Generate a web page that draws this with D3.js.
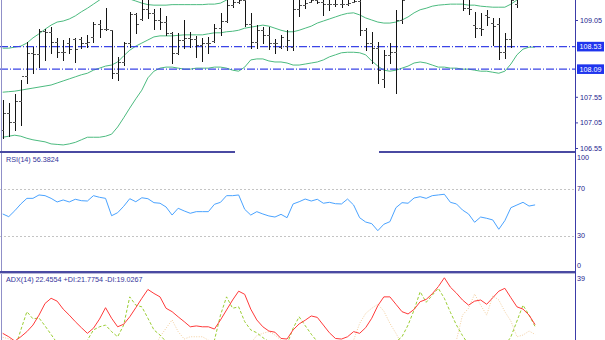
<!DOCTYPE html>
<html><head><meta charset="utf-8">
<script src="https://cdn.jsdelivr.net/npm/d3@7"></script>
<style>html,body{margin:0;padding:0;background:#fff;}svg{display:block;}</style>
</head><body><svg id="c" width="605" height="340"></svg>
<script>
// ---------- data ----------
const opens = [106.90,107.23,107.06,107.47,107.96,108.41,108.38,108.83,108.82,108.62,
108.42,108.60,108.68,108.68,108.60,108.72,108.97,108.87,108.85,108.01,
108.23,108.60,109.17,109.07,109.26,109.19,109.05,109.01,108.80,108.41,
108.66,108.70,108.68,108.56,108.60,108.64,108.89,109.03,109.34,109.40,
109.44,108.97,108.62,108.85,108.76,108.60,108.52,108.54,108.52,109.26,
109.34,109.41,109.44,109.40,109.36,109.36,109.36,109.36,109.41,109.42,
108.85,108.60,108.50,107.90,108.37,108.42,109.05,109.50,109.70,109.85,
109.80,109.90,109.95,109.75,109.65,109.70,109.55,109.28,108.95,108.89,
109.15,108.99,108.97,108.42,108.68,109.36,109.55,109.80,109.70];
const highs = [107.49,107.43,107.60,107.88,108.62,108.52,108.87,108.87,108.91,108.70,
108.66,108.70,108.70,108.72,108.76,109.01,109.05,109.28,108.85,108.33,
108.62,109.21,109.19,109.54,109.50,109.26,109.28,109.13,108.82,108.80,
109.05,108.82,108.74,108.70,108.72,108.97,109.19,109.48,109.60,109.64,
109.54,109.19,108.95,108.91,108.91,108.68,108.76,108.85,109.64,109.54,
109.60,109.64,109.64,109.68,109.64,109.60,109.54,109.60,109.64,109.60,
108.89,108.82,108.62,108.46,108.60,109.25,109.64,109.80,109.95,110.05,
110.00,110.10,110.05,109.90,109.85,109.80,109.70,109.55,109.21,109.19,
109.25,109.09,109.09,108.80,109.64,109.75,109.90,110.00,109.85];
const lows = [106.74,106.78,106.90,107.00,107.82,108.01,108.13,108.27,108.41,108.33,
108.27,108.41,108.23,108.50,108.52,108.62,108.72,108.85,107.92,107.88,
108.17,108.52,108.80,109.05,109.09,108.87,108.87,108.76,108.21,108.39,
108.50,108.52,108.33,108.25,108.41,108.62,108.76,109.01,109.30,109.38,
108.93,108.50,108.50,108.60,108.48,108.41,108.50,108.46,108.46,109.13,
109.28,109.40,109.38,109.15,109.25,109.32,109.30,109.34,109.40,108.76,
108.46,108.21,107.82,107.74,108.21,107.62,108.99,109.48,109.60,109.70,
109.65,109.75,109.70,109.55,109.50,109.48,109.25,109.17,108.72,108.76,
108.95,108.56,108.29,108.31,108.52,109.30,109.48,109.60,109.50];
const closes = [107.23,107.06,107.47,107.96,108.41,108.38,108.83,108.82,108.62,108.42,
108.42,108.48,108.48,108.60,108.62,108.97,108.87,108.87,108.01,108.23,
108.60,109.17,108.97,109.26,109.19,109.05,109.01,108.80,108.41,108.66,
108.70,108.68,108.56,108.60,108.60,108.89,109.03,109.34,109.40,109.44,
108.97,108.62,108.85,108.76,108.60,108.60,108.72,108.66,109.26,109.34,
109.38,109.44,109.40,109.36,109.36,109.36,109.36,109.38,109.42,108.85,
108.60,108.50,108.07,108.37,108.42,109.05,109.45,109.70,109.85,109.80,
109.90,109.95,109.75,109.65,109.70,109.55,109.28,109.26,108.89,108.87,
109.11,108.93,108.42,108.68,109.44,109.55,109.80,109.70,109.60];

const bbUpper = [108.50,108.50,108.52,108.54,108.60,108.70,108.78,108.87,108.95,109.01,
109.03,109.07,109.13,109.21,109.28,109.36,109.44,109.52,109.56,109.56,
109.52,109.46,109.42,109.38,109.35,109.34,109.34,109.34,109.35,109.35,
109.35,109.35,109.35,109.35,109.36,109.36,109.38,109.44,109.52,109.65,
109.65,109.56,109.58,109.62,109.62,109.60,109.56,109.54,109.54,109.54,
109.60,109.65,109.75,109.79,109.81,109.85,109.89,109.93,109.95,109.89,
109.81,109.85,109.87,109.91,109.93,109.95,109.99,110.07,110.16,110.26,
110.36,110.48,110.55,110.57,110.61,110.61,110.63,110.59,110.61,110.59,
110.57,110.57,110.59,110.55,110.53,110.51,110.55,110.67,110.75];
const bbMiddle = [107.64,107.65,107.66,107.68,107.70,107.72,107.74,107.76,107.78,107.82,
107.86,107.90,107.94,107.98,108.01,108.07,108.11,108.15,108.17,108.23,
108.35,108.46,108.54,108.60,108.66,108.72,108.74,108.74,108.74,108.75,
108.76,108.76,108.76,108.76,108.78,108.80,108.80,108.82,108.83,108.85,
108.89,108.91,108.93,108.95,108.93,108.89,108.85,108.82,108.82,108.85,
108.89,108.93,108.99,109.03,109.07,109.11,109.15,109.18,109.19,109.15,
109.09,109.05,109.01,108.99,108.99,109.01,109.05,109.11,109.19,109.25,
109.28,109.32,109.34,109.35,109.36,109.36,109.36,109.34,109.34,109.32,
109.31,109.30,109.30,109.30,109.36,109.44,109.52,109.60,109.64];
const bbLower = [106.76,106.78,106.80,106.78,106.74,106.71,106.69,106.67,106.63,106.62,
106.61,106.63,106.66,106.71,106.76,106.76,106.76,106.78,106.82,106.96,
107.14,107.33,107.51,107.68,107.92,108.05,108.11,108.13,108.13,108.11,
108.09,108.09,108.11,108.11,108.11,108.13,108.13,108.11,108.07,108.05,
108.13,108.27,108.29,108.29,108.25,108.23,108.23,108.21,108.17,108.17,
108.19,108.21,108.23,108.27,108.33,108.37,108.41,108.42,108.42,108.41,
108.37,108.25,108.15,108.07,108.05,108.07,108.11,108.15,108.21,108.23,
108.21,108.17,108.13,108.13,108.11,108.11,108.09,108.09,108.07,108.05,
108.05,108.03,108.01,108.05,108.19,108.37,108.48,108.52,108.52];

const rsi = [48.6,46.3,51.4,57.2,62.0,62.0,64.9,64.3,62.0,58.9,
60.6,58.9,61.2,60.0,59.7,64.3,62.9,62.0,47.1,49.7,
55.2,61.7,59.1,62.5,61.7,58.3,57.8,54.6,47.7,53.5,
51.2,49.2,50.6,50.6,50.6,56.9,58.6,64.3,64.3,64.9,
52.6,47.7,50.6,48.6,46.9,46.0,48.3,45.4,57.2,59.1,
61.4,59.7,61.2,57.8,58.6,57.4,57.2,61.4,56.3,45.4,
41.7,40.3,34.3,39.8,42.0,54.0,58.3,57.8,62.3,63.4,
62.0,64.3,64.9,65.5,58.6,57.2,52.0,48.6,41.5,46.0,
44.9,43.5,35.5,42.9,54.0,56.3,58.6,55.4,56.38];

const adx = [19.4,18.2,16.7,18.2,20.0,22.3,25.8,29.9,31.7,30.7,
27.9,25.8,23.5,21.4,19.4,21.2,24.4,28.4,24.7,21.7,
22.6,25.2,28.4,31.7,34.8,33.4,32.2,28.2,27.0,25.2,
23.5,21.7,22.0,21.7,21.7,20.9,24.1,27.6,31.1,34.2,
33.1,27.9,24.1,21.7,20.2,19.8,17.6,17.4,20.6,22.7,
24.0,25.5,25.0,22.3,19.6,17.6,17.4,18.2,20.0,19.4,
21.4,24.7,29.1,32.2,32.2,29.6,27.0,26.2,27.8,30.5,
31.3,33.3,35.8,38.9,35.6,33.5,31.1,29.3,30.7,31.1,
29.6,31.9,34.2,35.2,31.9,28.7,27.9,25.8,22.46];
const plusDI = [15,13,14,20.6,27.0,24.5,24.8,22.0,19.0,16.0,
13,12,12,14,17,20.6,21.7,22.3,20.0,18.2,
22.3,32.2,29.3,28.7,24.7,20.6,18.8,16.5,14,13,
12,12,12,11,11,17,25.8,32.2,28.2,28.7,
23.5,20.6,19.6,17.9,16.5,15,14,15.5,21.2,25.2,
22.1,19.1,16.5,14,13,12,12,13,14,12,
11,12,13,14,15,16.5,18.2,22.3,27.6,34.0,
30.3,32.8,35.2,31.7,26.8,22.3,18.6,15.5,13,12,
12,13,12,15,18.2,23.7,29.3,25.8,21.78];
const minusDI = [18,17.5,16.5,15,13,12,12,12,13,14,
15,15,16,16,15,14,13,12,14,15,
14,12,11,11,12,14,18.2,21.2,24.1,20.0,
17.4,18.2,18.2,18.2,17,15,13,11,11,11,
13,16,18.6,19.4,20.0,18.8,17,15,13,12,
12,13,14,15,15.5,15.5,16,16,17,22.9,
26.4,28.2,29.6,27.2,22.9,19.4,15.5,14,12,11,
11,12,12,13,14,17,25.8,28.2,33.2,29.3,
25.8,32.6,31.1,27.0,23.7,18.2,18.8,20.2,19.03];

const priceTicks = [109.05, 107.55, 107.05, 106.55];
const priceLevels = [108.53, 108.09];
const rsiTicks = [100, 70, 30, 0];
const rsiLevels = [70, 30];
const adxTicks = [39];
const rsiTitle = "RSI(14) 56.3824";
const adxTitle = "ADX(14) 22.4554 +DI:21.7754 -DI:19.0267";

// ---------- chart ----------
const FONT = "'Liberation Sans', Arial, sans-serif";
const FS = "7.2px";
const AXC = "#3c3ca8", TXC = "#22228e";
const N = closes.length, AX = 575;
const svg = d3.select("#c");
const x = d3.scaleLinear().domain([0, N - 1]).range([2.7, 535.1]);
const yP = d3.scaleLinear().domain([106.55, 109.05]).range([148, 20]);
const yR = d3.scaleLinear().domain([0, 100]).range([270.7, 154]);
const yA = d3.scaleLinear().domain([0, 39]).range([388.6, 277.5]);

const defs = svg.append("defs");
defs.append("clipPath").attr("id", "cp").append("rect").attr("x", 0).attr("y", 0).attr("width", AX).attr("height", 151);
defs.append("clipPath").attr("id", "cr").append("rect").attr("x", 0).attr("y", 153).attr("width", AX).attr("height", 118);
defs.append("clipPath").attr("id", "ca").append("rect").attr("x", 0).attr("y", 274).attr("width", AX).attr("height", 70);

const mkLine = (ys) => d3.line().x((d, i) => x(i)).y(d => ys(d));

// price pane
const gp = svg.append("g").attr("clip-path", "url(#cp)");
[bbUpper, bbMiddle, bbLower].forEach(arr => {
  gp.append("path").attr("d", mkLine(yP)(arr)).attr("fill", "none")
    .attr("stroke", "#4cbb7f").attr("stroke-width", 1);
});
priceLevels.forEach(v => {
  gp.append("line").attr("x1", 0).attr("x2", AX).attr("y1", yP(v)).attr("y2", yP(v))
    .attr("stroke", "#3b44e6").attr("stroke-width", 1.2).attr("stroke-dasharray", "8,2,1,2");
});
const gb = gp.append("g").attr("stroke", "#141414").attr("stroke-width", 1).attr("shape-rendering", "crispEdges");
d3.range(N).forEach(i => {
  const xi = Math.round(x(i)) + 0.5;
  gb.append("line").attr("x1", xi).attr("x2", xi).attr("y1", Math.round(yP(highs[i]))).attr("y2", Math.round(yP(lows[i])) + 1);
  gb.append("line").attr("x1", xi - 2.5).attr("x2", xi).attr("y1", Math.round(yP(opens[i])) + 0.5).attr("y2", Math.round(yP(opens[i])) + 0.5).attr("stroke", "#555");
  gb.append("line").attr("x1", xi).attr("x2", xi + 2.5).attr("y1", Math.round(yP(closes[i])) + 0.5).attr("y2", Math.round(yP(closes[i])) + 0.5).attr("stroke", "#555");
});

// RSI pane
const gr = svg.append("g").attr("clip-path", "url(#cr)");
rsiLevels.forEach(v => {
  gr.append("line").attr("x1", 0).attr("x2", AX).attr("y1", Math.round(yR(v)) + 0.5).attr("y2", Math.round(yR(v)) + 0.5)
    .attr("stroke", "#c4c4c4").attr("stroke-width", 1).attr("stroke-dasharray", "2,2");
});
gr.append("path").attr("d", mkLine(yR)(rsi)).attr("fill", "none").attr("stroke", "#4aa3ff").attr("stroke-width", 1);

// ADX pane
const ga = svg.append("g").attr("clip-path", "url(#ca)");
ga.append("path").attr("d", mkLine(yA)(minusDI)).attr("fill", "none").attr("stroke", "#f3cf9f").attr("stroke-width", 1).attr("stroke-dasharray", "1,1.5");
ga.append("path").attr("d", mkLine(yA)(plusDI)).attr("fill", "none").attr("stroke", "#9acd32").attr("stroke-width", 1).attr("stroke-dasharray", "3,2");
ga.append("path").attr("d", mkLine(yA)(adx)).attr("fill", "none").attr("stroke", "#ff3a3a").attr("stroke-width", 1);

// frame
svg.append("line").attr("x1", 1.5).attr("x2", 1.5).attr("y1", 0).attr("y2", 340).attr("stroke", "#9090c8").attr("stroke-width", 1);
svg.append("line").attr("x1", AX + 0.5).attr("x2", AX + 0.5).attr("y1", 0).attr("y2", 340).attr("stroke", AXC).attr("stroke-width", 1);
[[0, 235], [379, AX]].forEach(s => {
  svg.append("line").attr("x1", s[0]).attr("x2", s[1]).attr("y1", 152).attr("y2", 152).attr("stroke", "#4a4aa2").attr("stroke-width", 2);
});
svg.append("line").attr("x1", 0).attr("x2", AX).attr("y1", 272).attr("y2", 272).attr("stroke", "#4a4aa2").attr("stroke-width", 2);
svg.append("line").attr("x1", 0).attr("x2", AX).attr("y1", 273.5).attr("y2", 273.5).attr("stroke", "#b8b8d8").attr("stroke-width", 1);

// price axis
const axP = svg.append("g").attr("transform", `translate(${AX},0)`)
  .call(d3.axisRight(yP).tickValues(priceTicks).tickSize(3).tickPadding(2).tickFormat(d3.format(".2f")));
axP.select(".domain").remove();
axP.attr("font-family", FONT).attr("font-size", FS);
axP.selectAll("line").attr("stroke", AXC);
axP.selectAll("text").attr("fill", TXC);

priceLevels.forEach(v => {
  svg.append("rect").attr("x", AX + 2).attr("y", yP(v) - 4.8).attr("width", 27).attr("height", 9.6).attr("fill", "#1f35ee");
  svg.append("text").attr("x", AX + 4.5).attr("y", yP(v)).attr("dy", "0.35em").attr("fill", "#fff")
    .attr("font-family", FONT).attr("font-size", FS).text(d3.format(".2f")(v));
});

// RSI axis (labels clamped inside pane like the terminal does)
const axR = svg.append("g").attr("transform", `translate(${AX},0)`)
  .call(d3.axisRight(yR).tickValues(rsiTicks).tickSize(0).tickPadding(2).tickFormat(d3.format("d")));
axR.select(".domain").remove();
axR.attr("font-family", FONT).attr("font-size", FS);
axR.selectAll(".tick").attr("transform", d => `translate(0,${Math.max(158, Math.min(266, yR(d)))})`);
axR.selectAll("text").attr("fill", TXC);

// ADX axis
const axA = svg.append("g").attr("transform", `translate(${AX},0)`)
  .call(d3.axisRight(yA).tickValues(adxTicks).tickSize(0).tickPadding(2).tickFormat(d3.format("d")));
axA.select(".domain").remove();
axA.attr("font-family", FONT).attr("font-size", FS);
axA.selectAll(".tick").attr("transform", d => `translate(0,${Math.max(279, yA(d))})`);
axA.selectAll("text").attr("fill", TXC);

// titles
svg.append("text").attr("x", 6).attr("y", 162).attr("fill", "#33339a").attr("font-family", FONT).attr("font-size", FS).text(rsiTitle);
svg.append("text").attr("x", 6).attr("y", 282).attr("fill", "#33339a").attr("font-family", FONT).attr("font-size", FS).text(adxTitle);
</script></body></html>
